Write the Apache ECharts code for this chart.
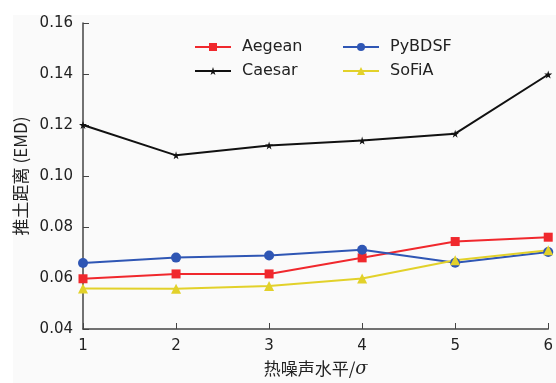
<!DOCTYPE html>
<html><head><meta charset="utf-8">
<script src="https://cdn.jsdelivr.net/npm/echarts@6/dist/echarts.min.js"></script>
<style>html,body{margin:0;padding:0;background:#fff}#c{width:556px;height:383px}</style>
</head><body><div id="c"></div>
<script>
var noiseLevels = [1, 2, 3, 4, 5, 6];
var aegean = [0.0597, 0.0616, 0.0616, 0.0679, 0.0743, 0.0760];
var caesar = [0.1200, 0.1081, 0.1120, 0.1139, 0.1166, 0.1398];
var pybdsf = [0.0659, 0.0680, 0.0688, 0.0711, 0.0660, 0.0702];
var sofia  = [0.0559, 0.0558, 0.0569, 0.0598, 0.0670, 0.0709];
var yTicks = [0.04, 0.06, 0.08, 0.10, 0.12, 0.14, 0.16];

function pairs(v){ return noiseLevels.map(function(x,i){ return [x, v[i]]; }); }
var FONT = 'DejaVu Sans, sans-serif';
var chart = echarts.init(document.getElementById('c'));
function mk(name, data, color, symbol, size){
  return {name:name, type:'line', data:pairs(data), symbol:symbol, symbolSize:size,
    lineStyle:{color:color, width:2}, itemStyle:{color:color}, showSymbol:true};
}
chart.setOption({
  backgroundColor:'#fff',
  animation:false,
  graphic:[{type:'rect', shape:{x:13,y:15,width:543,height:368}, style:{fill:'#fafafa'}, z:-10}],
  textStyle:{fontFamily:FONT},
  legend:[
    {data:['Aegean','Caesar'], orient:'vertical', left:189, top:34, itemWidth:36, itemHeight:10, itemGap:8,
     textStyle:{fontSize:16, color:'#222', fontFamily:FONT, padding:[0,0,0,6]}},
    {data:['PyBDSF','SoFiA'], orient:'vertical', left:337, top:34, itemWidth:36, itemHeight:10, itemGap:8,
     textStyle:{fontSize:16, color:'#222', fontFamily:FONT, padding:[0,0,0,6]}}
  ],
  grid:{left:83, right:4, top:23, bottom:50, containLabel:false},
  xAxis:{type:'value', min:1, max:6, interval:1,
    name:'{a|热噪声水平/}{b|σ}', nameLocation:'middle', nameGap:31,
    nameTextStyle:{rich:{a:{fontSize:17, color:'#222', fontFamily:'Noto Sans CJK SC'}, b:{fontSize:18, color:'#222', fontStyle:'italic', fontFamily:'DejaVu Serif'}}},
    axisLine:{lineStyle:{color:'#444', width:1.5}},
    axisTick:{inside:true, length:6, lineStyle:{color:'#444'}},
    axisLabel:{fontSize:15, color:'#222', margin:10},
    splitLine:{show:false}},
  yAxis:{type:'value', min:0.04, max:0.16, interval:0.02,
    name:'推土距离 (EMD)', nameLocation:'middle', nameGap:53, nameRotate:90,
    nameTextStyle:{fontSize:17, color:'#222', fontFamily:'Noto Sans CJK SC'},
    axisLine:{show:true, lineStyle:{color:'#444', width:1.5}},
    axisTick:{show:true, inside:true, length:6, lineStyle:{color:'#444'}},
    axisLabel:{fontSize:15, color:'#222', margin:10, formatter:function(v){return v.toFixed(2);}},
    splitLine:{show:false}},
  series:[
    mk('Aegean', aegean, '#f0282d', 'rect', 9),
    mk('Caesar', caesar, '#111111', 'path://M50,0 L61,35 L98,35 L68,57 L79,91 L50,70 L21,91 L32,57 L2,35 L39,35 Z', 8),
    mk('PyBDSF', pybdsf, '#2f56b4', 'circle', 10),
    mk('SoFiA', sofia, '#e2d12a', 'triangle', 10)
  ]
});
</script></body></html>
